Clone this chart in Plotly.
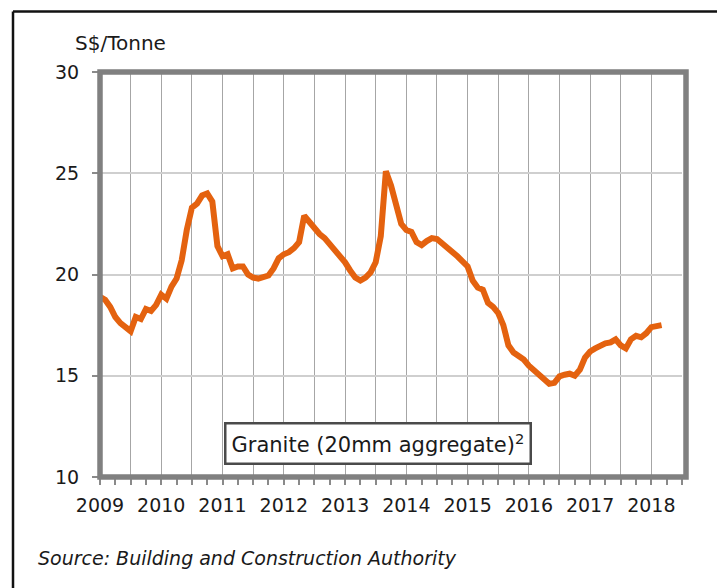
import plotly.graph_objects as go

# ---- data (monthly, Jan 2009 onwards) ----
start_year = 2009
granite_price = [
    18.9, 18.75, 18.4, 17.9, 17.6, 17.4, 17.2, 17.9, 17.8, 18.3, 18.2, 18.5,   # 2009
    19.0, 18.8, 19.4, 19.8, 20.7, 22.2, 23.3, 23.5, 23.9, 24.0, 23.6, 21.4,    # 2010
    20.9, 21.0, 20.3, 20.4, 20.4, 20.0, 19.85, 19.8, 19.9, 19.95, 20.3, 20.8,  # 2011
    21.0, 21.1, 21.3, 21.6, 22.9, 22.6, 22.2, 22.0, 21.8, 21.5, 21.3, 21.0,    # 2012
    20.6, 20.2, 19.85, 19.7, 19.85, 20.1, 20.6, 21.9, 25.1, 24.4, 23.4, 22.5,  # 2013
    22.2, 22.1, 21.6, 21.45, 21.65, 21.8, 21.75, 21.55, 21.35, 21.15, 20.9, 20.65,  # 2014
    20.4, 19.7, 19.35, 19.25, 18.6, 18.4, 18.1, 17.5, 16.5, 16.15, 16.0, 15.8,  # 2015
    15.5, 15.25, 15.0, 14.8, 14.6, 14.65, 14.97, 15.05, 15.1, 15.0, 15.3, 15.9,  # 2016
    16.2, 16.35, 16.5, 16.6, 16.65, 16.8, 16.5, 16.35, 16.8, 16.97, 16.9, 17.1,  # 2017
    17.4, 17.45, 17.5,                                                           # 2018
]
year_labels = [2009, 2010, 2011, 2012, 2013, 2014, 2015, 2016, 2017, 2018]
y_ticks = [10, 15, 20, 25, 30]
series_name = "Granite (20mm aggregate)<sup>2</sup>"
y_unit = "S$/Tonne"
source_text = "Source: Building and Construction Authority"

x_vals = [start_year + i / 12 for i in range(len(granite_price))]

W, H = 717, 588
L, R, T, B = 100, 35, 72, 111
PW, PH = W - L - R, H - T - B


def px(x):
    return (x - L) / PW


def py(y):
    return (H - B - y) / PH


FONT = "DejaVu Sans"
ORANGE = "#E4620F"
TXT = "#1a1a1a"

fig = go.Figure()
fig.add_trace(go.Scatter(
    x=x_vals, y=granite_price, mode="lines",
    line=dict(color=ORANGE, width=6), showlegend=False, hoverinfo="skip",
))

tickvals = []
ticktext = []
for yr in year_labels:
    tickvals += [yr, yr + 0.5]
    ticktext += [str(yr), ""]

fig.update_xaxes(
    range=[2009, 2018.5], tickmode="array", tickvals=tickvals, ticktext=ticktext,
    showgrid=True, gridcolor="#a6a6a6", gridwidth=1,
    ticks="outside", ticklen=7, tickcolor="#8a8a8a", tickwidth=1.5,
    minor=dict(dtick=0.25, tick0=2009, ticks="outside", ticklen=7,
               tickcolor="#8a8a8a", tickwidth=1.5, showgrid=False),
    showline=False, zeroline=False, ticklabelstandoff=4,
    tickfont=dict(family=FONT, size=19, color=TXT),
)
fig.update_yaxes(
    range=[10, 30], tickmode="array", tickvals=y_ticks,
    showgrid=True, gridcolor="#cfcfcf", gridwidth=2,
    ticks="outside", ticklen=7, tickcolor="#8a8a8a", tickwidth=1.5,
    showline=False, zeroline=False, ticklabelstandoff=9,
    tickfont=dict(family=FONT, size=19, color=TXT),
)

shapes = [
    # grey frame around the plot
    dict(type="rect", xref="paper", yref="paper", x0=0, y0=0,
         x1=px(686), y1=1, line=dict(color="#808080", width=5.5), layer="above"),
    # outer black border (top and left)
    dict(type="line", xref="paper", yref="paper", x0=px(13), x1=px(720),
         y0=py(11.5), y1=py(11.5), line=dict(color="#111111", width=2.5)),
    dict(type="line", xref="paper", yref="paper", x0=px(13), x1=px(13),
         y0=py(11.5), y1=py(592), line=dict(color="#111111", width=2.5)),
]

annotations = [
    dict(text=y_unit, xref="paper", yref="paper", x=px(73), y=py(43),
         xanchor="left", yanchor="middle", showarrow=False,
         font=dict(family=FONT, size=20, color=TXT)),
    dict(text=source_text, xref="paper", yref="paper", x=px(36), y=py(558),
         xanchor="left", yanchor="middle", showarrow=False,
         font=dict(family=FONT, size=19, color=TXT, style="italic")),
    dict(text=series_name, xref="paper", yref="paper", x=px(378), y=py(443.5),
         xanchor="center", yanchor="middle", showarrow=False,
         bgcolor="white", bordercolor="#4a4a4a", borderwidth=2.5, borderpad=5,
         font=dict(family=FONT, size=21, color=TXT)),
]

fig.update_layout(
    width=W, height=H, margin=dict(l=L, r=R, t=T, b=B),
    paper_bgcolor="white", plot_bgcolor="white",
    shapes=shapes, annotations=annotations, showlegend=False,
)

fig.write_html("out.html", config={"displayModeBar": False},
               post_script="document.body.style.margin='0';document.body.style.overflow='hidden';")
